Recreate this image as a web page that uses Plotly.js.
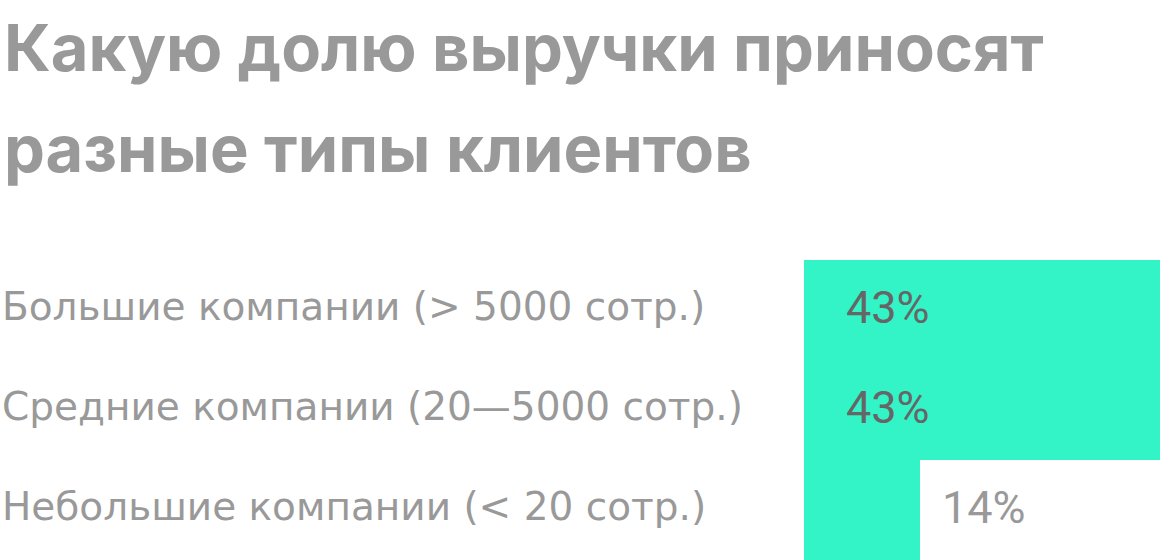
<!DOCTYPE html>
<html>
<head>
<meta charset="utf-8">
<script src="https://cdn.plot.ly/plotly-3.0.1.min.js"></script>
<style>
  html, body { margin: 0; padding: 0; background: #fff; }
  #chart { width: 1160px; height: 560px; }
</style>
</head>
<body>
<div id="chart"></div>
<script>
const titleLines = ["Какую долю выручки приносят", "разные типы клиентов"];
const categories = [
    "Большие компании (> 5000 сотр.)",
    "Средние компании (20—5000 сотр.)",
    "Небольшие компании (< 20 сотр.)",
];
const shares = [43, 43, 14];
const valueLabels = ["43%", "43%", "14%"];

// Plot area geometry (pixels)
const W = 1160, H = 560;
const margin = { l: 804, r: 0, t: 260, b: 0 };
const plotW = W - margin.l - margin.r;
const plotH = H - margin.t - margin.b;

const barColor = "#33f4c6";
const labelColor = "#999999";
const insideColor = "#666666";
const xMax = Math.max(...shares);

const annotations = [];

// Title lines, in paper coordinates above the plot
const titleY = [48, 148];
titleLines.forEach((line, i) => {
    annotations.push({
        text: line,
        xref: "paper", yref: "paper",
        x: (2 - margin.l) / plotW, xanchor: "left",
        y: (H - margin.b - titleY[i]) / plotH, yanchor: "middle",
        showarrow: false,
        font: { family: "Inter", size: 65, color: labelColor, weight: 700 },
    });
});

// Category labels at the left edge of the page
categories.forEach(cat => {
    annotations.push({
        text: cat,
        xref: "paper", yref: "y",
        x: (0 - margin.l) / plotW, xanchor: "left",
        y: cat, yanchor: "middle", yshift: 4,
        showarrow: false,
        font: { family: "DejaVu Sans", size: 39, color: labelColor },
    });
});

// Value labels: inside the bar when it is wide, otherwise after it
shares.forEach((v, i) => {
    const inside = v > 20;
    annotations.push({
        text: valueLabels[i],
        xref: "x", yref: "y",
        x: inside ? 0 : v, xanchor: "left",
        xshift: inside ? 40 : 20,
        y: categories[i], yanchor: "middle", yshift: 3,
        showarrow: false,
        font: { family: "Roboto", size: 45, color: inside ? insideColor : labelColor },
    });
});

Plotly.newPlot("chart", [{
    type: "bar",
    orientation: "h",
    x: shares,
    y: categories,
    marker: { color: barColor },
    hoverinfo: "skip",
}], {
    width: W, height: H,
    margin: { ...margin, pad: 0 },
    paper_bgcolor: "#fff",
    plot_bgcolor: "#fff",
    bargap: 0,
    showlegend: false,
    xaxis: { range: [0, xMax], visible: false, fixedrange: true },
    yaxis: {
        autorange: "reversed",
        showticklabels: false, showgrid: false, zeroline: false,
        fixedrange: true,
    },
    annotations,
}, { staticPlot: true });
</script>
</body>
</html>
